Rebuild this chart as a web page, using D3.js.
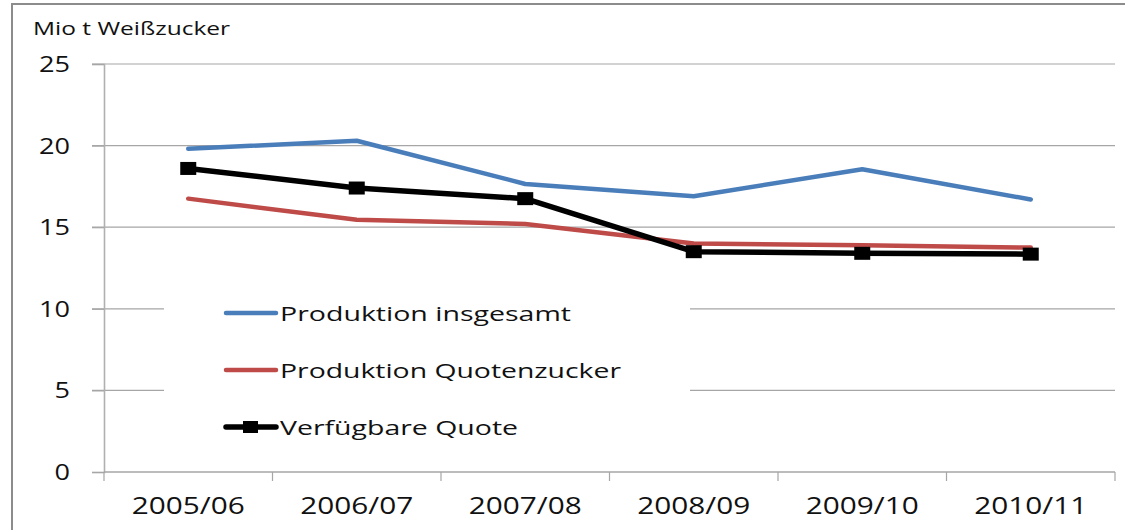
<!DOCTYPE html>
<html>
<head>
<meta charset="utf-8">
<script src="https://cdn.jsdelivr.net/npm/d3@7"></script>
<style>
  html, body { margin: 0; padding: 0; background: #fff; }
  svg { display: block; }
  text { font-family: "Open Sans", "DejaVu Sans", sans-serif; fill: #111; }
</style>
</head>
<body>
<svg id="chart" width="1125" height="530"></svg>
<script>
const categories = ["2005/06", "2006/07", "2007/08", "2008/09", "2009/10", "2010/11"];
const produktionInsgesamt = [19.8, 20.3, 17.65, 16.9, 18.55, 16.7];
const produktionQuotenzucker = [16.75, 15.45, 15.2, 14.0, 13.9, 13.75];
const verfuegbareQuote = [18.6, 17.4, 16.75, 13.5, 13.4, 13.35];
const yTicks = [0, 5, 10, 15, 20, 25];
const seriesNames = ["Produktion insgesamt", "Produktion Quotenzucker", "Verfügbare Quote"];
const yTitle = "Mio t Weißzucker";

const series = [
  { name: seriesNames[0], values: produktionInsgesamt, color: "#4a7ebb", width: 4.5, marker: false },
  { name: seriesNames[1], values: produktionQuotenzucker, color: "#be4b48", width: 4.5, marker: false },
  { name: seriesNames[2], values: verfuegbareQuote, color: "#000000", width: 5.5, marker: true }
];

const svg = d3.select("#chart");

// outer frame
svg.append("rect").attr("x", 12).attr("y", 4).attr("width", 1130).attr("height", 560)
  .attr("fill", "none").attr("stroke", "#8c8c8c").attr("stroke-width", 2);

const plotLeft = 104, plotRight = 1115, plotTop = 64, plotBottom = 472;
const x = d3.scaleBand().domain(categories).range([plotLeft, plotRight]).padding(0);
const y = d3.scaleLinear().domain([0, 25]).range([plotBottom, plotTop]);

// gridlines
svg.append("g").selectAll("line").data(yTicks.filter(d => d > 0)).join("line")
  .attr("x1", 92).attr("x2", plotRight)
  .attr("y1", d => y(d)).attr("y2", d => y(d))
  .attr("stroke", "#a6a6a6").attr("stroke-width", 1.2);

// y axis
const yAxis = svg.append("g").attr("transform", `translate(${plotLeft},0)`)
  .call(d3.axisLeft(y).tickValues(yTicks).tickSize(12).tickPadding(22).tickFormat(d3.format("d")));
yAxis.select(".domain").attr("stroke", "#b0b0b0").attr("stroke-width", 1.6);
yAxis.selectAll(".tick line").attr("stroke", "#a6a6a6").attr("stroke-width", 1.2);
yAxis.selectAll(".tick text")
  .attr("font-size", 21).attr("fill", "#111")
  .attr("font-family", "Open Sans, sans-serif")
  .attr("dy", "0.36em")
  .attr("textLength", d => String(d).length * 15.5)
  .attr("lengthAdjust", "spacingAndGlyphs");

// x axis
const xAxis = svg.append("g").attr("transform", `translate(0,${plotBottom})`)
  .call(d3.axisBottom(x).tickSize(0).tickPadding(0));
xAxis.select(".domain").remove();
xAxis.selectAll(".tick text")
  .attr("font-size", 23).attr("fill", "#111")
  .attr("font-family", "Open Sans, sans-serif")
  .attr("y", 42).attr("dy", 0)
  .attr("textLength", 113).attr("lengthAdjust", "spacingAndGlyphs");
svg.append("line").attr("x1", plotLeft).attr("x2", plotRight).attr("y1", plotBottom).attr("y2", plotBottom)
  .attr("stroke", "#a6a6a6").attr("stroke-width", 1.4);
// category boundary ticks
const bounds = categories.map(c => x(c)).concat([x(categories[categories.length - 1]) + x.bandwidth()]);
svg.append("g").selectAll("line").data(bounds).join("line")
  .attr("x1", d => d).attr("x2", d => d).attr("y1", plotBottom).attr("y2", plotBottom + 9)
  .attr("stroke", "#a6a6a6").attr("stroke-width", 1.2);

// title
svg.append("text").attr("x", 33).attr("y", 35).attr("font-size", 18)
  .attr("textLength", 197).attr("lengthAdjust", "spacingAndGlyphs").text(yTitle);

// legend background
svg.append("rect").attr("x", 164).attr("y", 285).attr("width", 526).attr("height", 160).attr("fill", "#fff");

// lines
const cx = c => x(c) + x.bandwidth() / 2;
const line = d3.line().x((d, i) => cx(categories[i])).y(d => y(d));
series.forEach(s => {
  svg.append("path").datum(s.values).attr("d", line)
    .attr("fill", "none").attr("stroke", s.color).attr("stroke-width", s.width)
    .attr("stroke-linejoin", "round").attr("stroke-linecap", "round");
  if (s.marker) {
    svg.append("g").selectAll("rect").data(s.values).join("rect")
      .attr("x", (d, i) => cx(categories[i]) - 8).attr("y", d => y(d) - 6.5)
      .attr("width", 16).attr("height", 13).attr("fill", s.color);
  }
});

// legend
const legendRows = [313, 370, 427];
const legendWidths = [291, 341, 238];
series.forEach((s, i) => {
  const g = svg.append("g").attr("transform", `translate(0,${legendRows[i]})`);
  g.append("line").attr("x1", 226).attr("x2", 276).attr("y1", 0).attr("y2", 0)
    .attr("stroke", s.color).attr("stroke-width", s.width).attr("stroke-linecap", "round");
  if (s.marker) {
    g.append("rect").attr("x", 243).attr("y", -6).attr("width", 15).attr("height", 12).attr("fill", s.color);
  }
  g.append("text").attr("x", 280).attr("y", 8).attr("font-size", 20.5)
    .attr("textLength", legendWidths[i]).attr("lengthAdjust", "spacingAndGlyphs").text(s.name);
});
</script>
</body>
</html>
